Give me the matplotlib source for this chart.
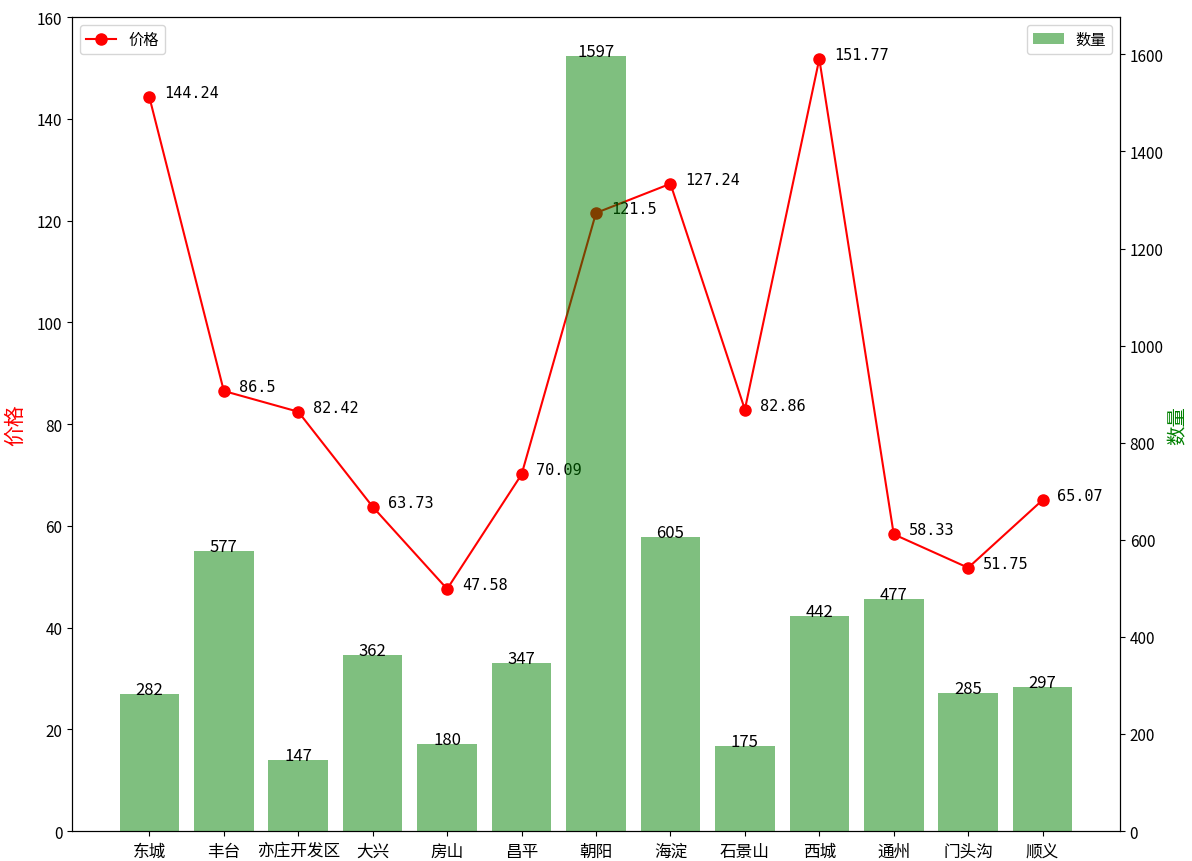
import matplotlib
matplotlib.use("Agg")
import matplotlib.pyplot as plt

plt.rcParams['font.family'] = ['Noto Sans CJK SC', 'DejaVu Sans']
plt.rcParams['axes.unicode_minus'] = False

# district names, average price and listing count
districts = ["东城", "丰台", "亦庄开发区", "大兴", "房山", "昌平", "朝阳",
             "海淀", "石景山", "西城", "通州", "门头沟", "顺义"]
prices = [144.24, 86.5, 82.42, 63.73, 47.58, 70.09, 121.5,
          127.24, 82.86, 151.77, 58.33, 51.75, 65.07]
counts = [282, 577, 147, 362, 180, 347, 1597, 605, 175, 442, 477, 285, 297]

fig, ax1 = plt.subplots(figsize=(11.92, 8.62), dpi=100)
fig.subplots_adjust(left=0.0604, right=0.9396, bottom=0.0348, top=0.979)

x = list(range(len(districts)))

# price line on the left axis
ax1.plot(x, prices, color="red", marker="o", markersize=8, label="价格")
for xi, p in zip(x, prices):
    ax1.text(xi + 0.2, p, str(p), fontsize=11, family="DejaVu Sans Mono")
ax1.set_ylim(0, 160)
ax1.set_ylabel("价格", color="red", fontsize=15, labelpad=8)
ax1.legend(loc="upper left", fontsize=11)

# count bars on the right axis
ax2 = ax1.twinx()
ax2.bar(x, counts, color="green", alpha=0.5, width=0.8, label="数量")
for xi, c in zip(x, counts):
    ax2.text(xi, c, str(c), ha="center", fontsize=12)
ax2.set_ylabel("数量", color="green", fontsize=14, labelpad=3)
ax2.legend(loc="upper right", fontsize=11)

ax1.set_xticks(x)
ax1.set_xticklabels(districts, fontsize=12)
ax1.tick_params(axis="x", pad=5)
ax1.tick_params(axis="y", labelsize=11)
ax2.tick_params(axis="y", labelsize=11)

fig.savefig("out.png")
